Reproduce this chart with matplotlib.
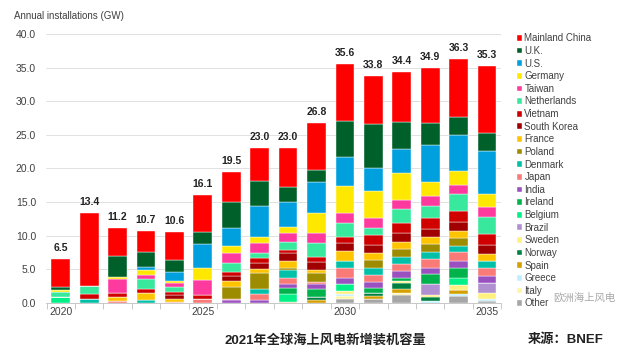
import matplotlib
matplotlib.use("Agg")
import matplotlib.pyplot as plt
import numpy as np

plt.rcParams['font.family'] = ['Liberation Sans', 'Noto Sans CJK SC', 'DejaVu Sans']

years = list(range(2020, 2036))
totals = ["6.5", "13.4", "11.2", "10.7", "10.6", "16.1", "19.5", "23.0",
          "23.0", "26.8", "35.6", "33.8", "34.4", "34.9", "36.3", "35.3"]

# GW per market, 2020..2035
china       = [4.1, 10.8, 4.2, 3.2, 4.3, 5.5, 4.45, 4.9, 5.8, 7.0, 8.55, 7.25, 7.5, 8.1, 8.6, 10.05]
uk          = [0.5, 0, 3.1, 2.15, 1.65, 1.85, 3.95, 3.7, 2.15, 1.85, 5.35, 6.45, 3.95, 3.3, 2.65, 2.6]
us          = [0, 0, 0, 0.5, 1.4, 3.6, 2.65, 4.55, 3.7, 4.6, 4.2, 3.45, 3.6, 5.45, 5.45, 6.45]
germany     = [0.25, 0, 0.4, 0.75, 0.35, 1.8, 1.0, 0.9, 1.0, 3.0, 4.1, 4.05, 3.95, 2.1, 2.0, 2.0]
taiwan      = [0, 0, 2.0, 0.5, 0.5, 2.2, 1.5, 1.6, 1.35, 1.5, 1.45, 1.4, 1.4, 1.5, 1.4, 1.4]
netherlands = [0.75, 1.3, 0, 1.5, 0.85, 0, 1.3, 0.75, 1.1, 2.0, 2.05, 1.1, 2.1, 1.9, 2.6, 2.6]
vietnam     = [0, 0.65, 0.7, 0.6, 0.4, 0.65, 0.6, 0.7, 0.5, 0.75, 0.95, 1.5, 1.5, 1.5, 1.5, 1.55]
south_korea = [0, 0, 0, 0, 0.6, 0, 0.8, 0.9, 1.15, 1.2, 1.25, 1.15, 1.25, 1.3, 1.4, 1.45]
france      = [0, 0, 0.6, 1.05, 0.45, 0, 0.95, 0.5, 1.0, 0.4, 1.4, 1.1, 1.1, 1.05, 1.0, 1.0]
poland      = [0, 0, 0, 0, 0, 0, 1.8, 2.4, 0.4, 1.4, 0, 1.2, 1.15, 1.2, 1.25, 0]
denmark     = [0, 0.6, 0, 0.45, 0, 0, 0, 0.85, 1.2, 0, 1.1, 1.0, 1.0, 1.0, 0.95, 1.0]
japan       = [0, 0, 0.2, 0, 0.1, 0.5, 0.15, 0.85, 0.9, 0.35, 1.4, 1.0, 1.1, 1.25, 1.25, 1.25]
india       = [0, 0, 0, 0, 0, 0, 0.35, 0.4, 0.5, 0.75, 1.0, 1.0, 1.05, 0.9, 1.0, 1.0]
ireland     = [0, 0, 0, 0, 0, 0, 0, 0, 1.0, 1.15, 0, 0.65, 0.5, 1.5, 1.55, 0]
belgium     = [0.9, 0, 0, 0, 0, 0, 0, 0, 1.1, 0, 1.0, 0, 0, 0, 1.1, 0]
brazil      = [0, 0, 0, 0, 0, 0, 0, 0, 0, 0, 0, 0, 0, 1.65, 0, 1.5]
sweden      = [0, 0, 0, 0, 0, 0, 0, 0, 0, 0, 0.5, 0, 0.2, 0.35, 0.75, 0.9]
norway      = [0, 0, 0, 0, 0, 0, 0, 0, 0, 0.5, 0, 0.5, 1.0, 0.6, 0, 0]
spain       = [0, 0, 0, 0, 0, 0, 0, 0, 0.15, 0.35, 0, 0.4, 0.5, 0, 0.5, 0]
greece      = [0, 0, 0, 0, 0, 0, 0, 0, 0, 0, 0.25, 0, 0, 0.25, 0.35, 0.25]
italy       = [0, 0, 0, 0, 0, 0, 0, 0, 0, 0, 0.5, 0, 0.4, 0, 0, 0]
other       = [0, 0, 0, 0, 0, 0, 0, 0, 0, 0, 0.5, 0.6, 1.1, 0, 1.0, 0.3]

# bottom to top
series = [
    ("Other", other, "#A6A6A6"),
    ("Italy", italy, "#FFF5A8"),
    ("Greece", greece, "#BFEFFF"),
    ("Spain", spain, "#D4A000"),
    ("Norway", norway, "#008040"),
    ("Sweden", sweden, "#FFF080"),
    ("Brazil", brazil, "#B090D0"),
    ("Belgium", belgium, "#00F088"),
    ("Ireland", ireland, "#00B24C"),
    ("India", india, "#9B50C0"),
    ("Japan", japan, "#FA7A78"),
    ("Denmark", denmark, "#00C0A8"),
    ("Poland", poland, "#9E8C00"),
    ("France", france, "#FFC400"),
    ("South Korea", south_korea, "#A00000"),
    ("Vietnam", vietnam, "#D00000"),
    ("Netherlands", netherlands, "#38E89C"),
    ("Taiwan", taiwan, "#FF3A9E"),
    ("Germany", germany, "#FFE800"),
    ("U.S.", us, "#00A0DF"),
    ("U.K.", uk, "#00602A"),
    ("Mainland China", china, "#FF0000"),
]

fig = plt.figure(figsize=(6.18, 3.55), dpi=100)
ax = fig.add_axes([0.074, 0.147, 0.737, 0.757])

x = np.arange(len(years))
bottom = np.zeros(len(years))
handles = []
for name, vals, col in series:
    b = ax.bar(x, vals, 0.66, bottom=bottom, color=col, edgecolor="white",
               linewidth=0.3, label=name, zorder=3)
    handles.append(b)
    bottom += np.array(vals)

for i, t in enumerate(totals):
    ax.text(x[i], bottom[i] + 0.9, t, ha="center", va="bottom",
            fontsize=7.5, fontweight="bold", color="#222222")

ax.set_xlim(-0.53, 15.47)
ax.set_ylim(0, 40)
ax.set_yticks(np.arange(0, 41, 5))
ax.set_yticklabels([f"{v:.1f}" for v in np.arange(0, 41, 5)], fontsize=7.5, color="#404040")
ax.yaxis.grid(True, color="#DCDCDC", linewidth=0.6, zorder=0)
ax.tick_params(axis="y", length=0, pad=7)

ax.set_xticks(np.arange(-0.5, 15.6, 1), minor=True)
ax.set_xticks([0, 5, 10, 15])
ax.set_xticklabels(["2020", "2025", "2030", "2035"], fontsize=7.5, color="#404040")
ax.tick_params(axis="x", which="major", length=0, pad=3)
ax.tick_params(axis="x", which="minor", length=4, color="#BFBFBF", width=0.6)

for s in ["top", "right", "left"]:
    ax.spines[s].set_visible(False)
ax.spines["bottom"].set_color("#BFBFBF")
ax.spines["bottom"].set_linewidth(0.6)

fig.text(0.023, 0.955, "Annual installations (GW)", fontsize=7, color="#404040",
         ha="left", va="center")

leg = fig.legend(handles[::-1], [s[0] for s in series][::-1], loc="upper left",
                 bbox_to_anchor=(0.836, 0.906), frameon=False, fontsize=7,
                 handlelength=0.55, handleheight=0.55, handletextpad=0.25,
                 labelspacing=0.27, borderpad=0, borderaxespad=0)
for t in leg.get_texts():
    t.set_color("#404040")

fig.text(0.527, 0.042, "2021年全球海上风电新增装机容量", fontsize=9.5,
         fontweight="bold", ha="center", va="center", color="#222222")
fig.text(0.915, 0.042, "来源：BNEF", fontsize=9.5, fontweight="bold",
         ha="center", va="center", color="#222222")

# watermark, nudged right of the last legend entry
fig.text(0.945, 0.162, "欧洲海上风电", fontsize=7.5, color="#9A9A9A", alpha=0.85,
         ha="center", va="center")

fig.savefig("out.png", dpi=100)
